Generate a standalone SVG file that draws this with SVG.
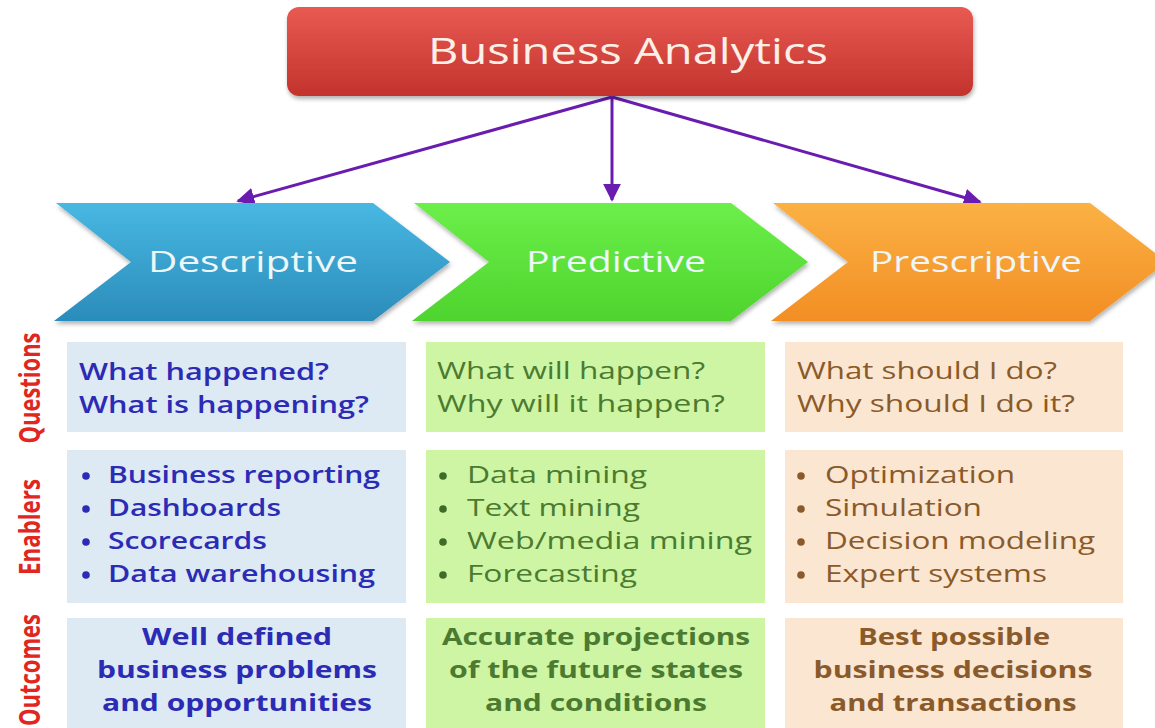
<svg xmlns="http://www.w3.org/2000/svg" width="1155" height="728" viewBox="0 0 1155 728">
<defs>
<linearGradient id="gRed" x1="0" y1="0" x2="0" y2="1"><stop offset="0" stop-color="#e85a52"/><stop offset="1" stop-color="#c3332d"/></linearGradient>
<linearGradient id="gBlue" x1="0" y1="0" x2="0" y2="1"><stop offset="0" stop-color="#48b8e2"/><stop offset="1" stop-color="#2b8cba"/></linearGradient>
<linearGradient id="gGreen" x1="0" y1="0" x2="0" y2="1"><stop offset="0" stop-color="#6cef4a"/><stop offset="1" stop-color="#4ed42e"/></linearGradient>
<linearGradient id="gOrange" x1="0" y1="0" x2="0" y2="1"><stop offset="0" stop-color="#fbb144"/><stop offset="1" stop-color="#f28e24"/></linearGradient>
<filter id="sh" x="-5%" y="-10%" width="110%" height="130%"><feDropShadow dx="1" dy="3" stdDeviation="2" flood-color="#000" flood-opacity="0.3"/></filter>
<marker id="ah" viewBox="0 0 10 10" refX="9" refY="5" markerWidth="6" markerHeight="6" orient="auto" markerUnits="strokeWidth"><path d="M0,0 L10,5 L0,10 z" fill="#6a1cb0"/></marker>
<style>
text{font-family:"Open Sans","Liberation Sans",sans-serif}
.title{font-size:37px;fill:#fbefe8;text-anchor:middle}
.chev{font-size:30px;fill:#eef6f8;text-anchor:middle}
.lbl{font-size:28px;fill:#e0261e;font-weight:bold;text-anchor:middle}
.t{font-size:24px}
.b{font-weight:bold}
.c{text-anchor:middle}
.blue{fill:#2b2bb5}
.grn{fill:#4b7a30}
.brn{fill:#8a5a2a}
.conn{stroke:#6a1cb0;stroke-width:3;fill:none}
</style>
</defs>
<rect width="1155" height="728" fill="#ffffff"/>

<g id="connectors">
<line class="conn" x1="612" y1="97" x2="238" y2="201" marker-end="url(#ah)"/>
<line class="conn" x1="612" y1="97" x2="612" y2="200" marker-end="url(#ah)"/>
<line class="conn" x1="612" y1="97" x2="980" y2="202" marker-end="url(#ah)"/>
</g>

<g id="business-analytics">
<rect x="287" y="7" width="686" height="89" rx="12" fill="url(#gRed)" filter="url(#sh)"/>
<text class="title" x="628" y="64" textLength="400" lengthAdjust="spacingAndGlyphs">Business Analytics</text>
</g>

<g id="descriptive">
<path d="M56,203 L373,203 L450,262 L373,321 L54,321 L131,262 Z" fill="url(#gBlue)" filter="url(#sh)"/>
<text class="chev" x="253" y="272" textLength="210" lengthAdjust="spacingAndGlyphs">Descriptive</text>
</g>
<g id="predictive">
<path d="M414,203 L731,203 L808,262 L731,321 L412,321 L489,262 Z" fill="url(#gGreen)" filter="url(#sh)"/>
<text class="chev" x="616" y="272" textLength="180" lengthAdjust="spacingAndGlyphs">Predictive</text>
</g>
<g id="prescriptive">
<path d="M773,203 L1090,203 L1167,262 L1090,321 L771,321 L848,262 Z" fill="url(#gOrange)" filter="url(#sh)"/>
<text class="chev" x="976" y="272" textLength="212" lengthAdjust="spacingAndGlyphs">Prescriptive</text>
</g>

<g id="row-labels">
<text class="lbl" transform="translate(40,388) rotate(-90)" textLength="111" lengthAdjust="spacingAndGlyphs">Questions</text>
<text class="lbl" transform="translate(40,527) rotate(-90)" textLength="96" lengthAdjust="spacingAndGlyphs">Enablers</text>
<text class="lbl" transform="translate(40,670) rotate(-90)" textLength="112" lengthAdjust="spacingAndGlyphs">Outcomes</text>
</g>

<g id="desc-questions">
<rect x="67" y="342" width="339" height="90" fill="#dde9f3"/>
<text class="t blue" x="79" y="380" font-weight="600" textLength="250" lengthAdjust="spacingAndGlyphs">What happened?</text>
<text class="t blue" x="79" y="413" font-weight="600" textLength="290" lengthAdjust="spacingAndGlyphs">What is happening?</text>
</g>
<g id="desc-enablers">
<rect x="67" y="450" width="339" height="153" fill="#dde9f3"/>
<g fill="#2b2bb5"><circle cx="86" cy="476" r="3.8"/><circle cx="86" cy="509" r="3.8"/><circle cx="86" cy="542" r="3.8"/><circle cx="86" cy="575" r="3.8"/></g>
<text class="t blue" x="108" y="483" font-weight="600" textLength="272" lengthAdjust="spacingAndGlyphs">Business reporting</text>
<text class="t blue" x="108" y="516" font-weight="600" textLength="173" lengthAdjust="spacingAndGlyphs">Dashboards</text>
<text class="t blue" x="108" y="549" font-weight="600" textLength="159" lengthAdjust="spacingAndGlyphs">Scorecards</text>
<text class="t blue" x="108" y="582" font-weight="600" textLength="267" lengthAdjust="spacingAndGlyphs">Data warehousing</text>
</g>
<g id="desc-outcomes">
<rect x="67" y="618" width="339" height="110" fill="#dde9f3"/>
<text class="t blue b c" x="237" y="645" textLength="190" lengthAdjust="spacingAndGlyphs">Well defined</text>
<text class="t blue b c" x="237" y="678" textLength="280" lengthAdjust="spacingAndGlyphs">business problems</text>
<text class="t blue b c" x="237" y="711" textLength="270" lengthAdjust="spacingAndGlyphs">and opportunities</text>
</g>

<g id="pred-questions">
<rect x="426" y="342" width="339" height="90" fill="#cdf5a3"/>
<text class="t grn" x="437" y="379" textLength="268" lengthAdjust="spacingAndGlyphs">What will happen?</text>
<text class="t grn" x="437" y="412" textLength="288" lengthAdjust="spacingAndGlyphs">Why will it happen?</text>
</g>
<g id="pred-enablers">
<rect x="426" y="450" width="339" height="153" fill="#cdf5a3"/>
<g fill="#3f6a28"><circle cx="443" cy="476" r="3.8"/><circle cx="443" cy="509" r="3.8"/><circle cx="443" cy="542" r="3.8"/><circle cx="443" cy="575" r="3.8"/></g>
<text class="t grn" x="467" y="483" textLength="180" lengthAdjust="spacingAndGlyphs">Data mining</text>
<text class="t grn" x="467" y="516" textLength="173" lengthAdjust="spacingAndGlyphs">Text mining</text>
<text class="t grn" x="467" y="549" textLength="285" lengthAdjust="spacingAndGlyphs">Web/media mining</text>
<text class="t grn" x="467" y="582" textLength="170" lengthAdjust="spacingAndGlyphs">Forecasting</text>
</g>
<g id="pred-outcomes">
<rect x="426" y="618" width="339" height="110" fill="#cdf5a3"/>
<text class="t grn b c" x="596" y="645" textLength="308" lengthAdjust="spacingAndGlyphs">Accurate projections</text>
<text class="t grn b c" x="596" y="678" textLength="294" lengthAdjust="spacingAndGlyphs">of the future states</text>
<text class="t grn b c" x="596" y="711" textLength="222" lengthAdjust="spacingAndGlyphs">and conditions</text>
</g>

<g id="presc-questions">
<rect x="785" y="342" width="338" height="90" fill="#fbe6d2"/>
<text class="t brn" x="797" y="379" textLength="260" lengthAdjust="spacingAndGlyphs">What should I do?</text>
<text class="t brn" x="797" y="412" textLength="278" lengthAdjust="spacingAndGlyphs">Why should I do it?</text>
</g>
<g id="presc-enablers">
<rect x="785" y="450" width="338" height="153" fill="#fbe6d2"/>
<g fill="#8a5a2a"><circle cx="801" cy="476" r="3.8"/><circle cx="801" cy="509" r="3.8"/><circle cx="801" cy="542" r="3.8"/><circle cx="801" cy="575" r="3.8"/></g>
<text class="t brn" x="825" y="483" textLength="190" lengthAdjust="spacingAndGlyphs">Optimization</text>
<text class="t brn" x="825" y="516" textLength="157" lengthAdjust="spacingAndGlyphs">Simulation</text>
<text class="t brn" x="825" y="549" textLength="270" lengthAdjust="spacingAndGlyphs">Decision modeling</text>
<text class="t brn" x="825" y="582" textLength="222" lengthAdjust="spacingAndGlyphs">Expert systems</text>
</g>
<g id="presc-outcomes">
<rect x="785" y="618" width="338" height="110" fill="#fbe6d2"/>
<text class="t brn b c" x="954" y="645" textLength="192" lengthAdjust="spacingAndGlyphs">Best possible</text>
<text class="t brn b c" x="953" y="678" textLength="279" lengthAdjust="spacingAndGlyphs">business decisions</text>
<text class="t brn b c" x="953" y="711" textLength="247" lengthAdjust="spacingAndGlyphs">and transactions</text>
</g>
</svg>
